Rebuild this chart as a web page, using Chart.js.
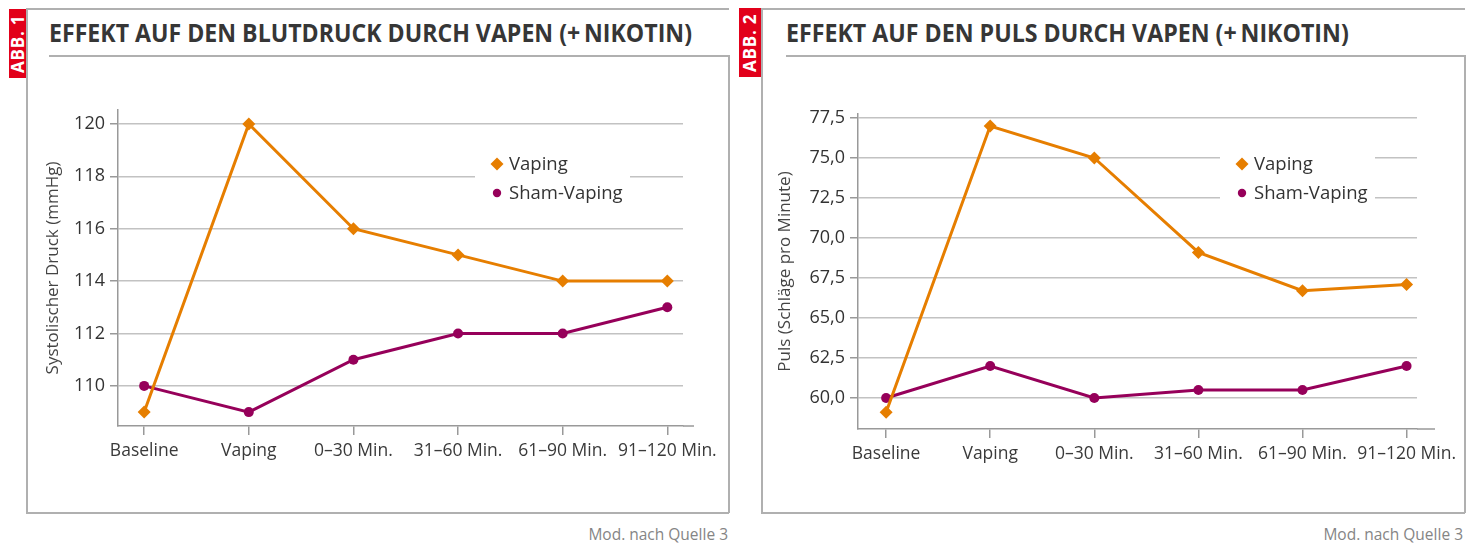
<!DOCTYPE html>
<html lang="de">
<head>
<meta charset="utf-8">
<title>Effekt auf Blutdruck und Puls durch Vapen</title>
<script src="https://cdn.jsdelivr.net/npm/chart.js@4.4.1/dist/chart.umd.min.js"></script>
<style>
  html, body { margin: 0; padding: 0; background: #fff; }
  body { width: 1471px; height: 549px; position: relative; overflow: hidden; font-family: 'Open Sans', sans-serif; }
  .linie { position: absolute; background: #b0b0b0; }
  .abb { position: absolute; background: #e2001a; color: #fff; font-weight: 700; font-size: 17px;
         writing-mode: vertical-rl; transform: rotate(180deg); text-align: center; line-height: 17px; letter-spacing: 0.8px; }
  .titel { position: absolute; top: 17px; font-weight: 700; font-size: 25px; line-height: 30px; color: #363636;
           white-space: nowrap; transform-origin: 0 0; }
  .quelle { position: absolute; top: 523px; font-size: 15.5px; color: #858585; white-space: nowrap; }
  canvas { position: absolute; top: 58px; }
</style>
</head>
<body>

<!-- Abb. 1 -->
<div class="linie" style="left:26px; top:8px; width:703px; height:1.5px"></div>
<div class="linie" style="left:26px; top:8px; width:1.5px; height:505px"></div>
<div class="linie" style="left:49px; top:55px; width:680px; height:1.5px"></div>
<div class="linie" style="left:728px; top:55px; width:1.5px; height:458px"></div>
<div class="linie" style="left:26px; top:512px; width:703px; height:1.5px"></div>
<div class="abb" style="left:9px; top:9px; width:17px; height:69px">ABB. 1</div>
<div class="titel" id="titel1" style="left:49px">EFFEKT AUF DEN BLUTDRUCK DURCH VAPEN (+&thinsp;NIKOTIN)</div>
<canvas id="chartBlutdruck" width="700" height="448" style="left:27px"></canvas>
<div class="quelle" style="right:743px">Mod. nach Quelle 3</div>

<!-- Abb. 2 -->
<div class="linie" style="left:761px; top:8px; width:704px; height:1.5px"></div>
<div class="linie" style="left:761px; top:8px; width:1.5px; height:505px"></div>
<div class="linie" style="left:786px; top:55px; width:679px; height:1.5px"></div>
<div class="linie" style="left:1464px; top:55px; width:1.5px; height:458px"></div>
<div class="linie" style="left:761px; top:512px; width:704px; height:1.5px"></div>
<div class="abb" style="left:739px; top:8px; width:22px; height:69px; line-height:22px">ABB. 2</div>
<div class="titel" id="titel2" style="left:786px">EFFEKT AUF DEN PULS DURCH VAPEN (+&thinsp;NIKOTIN)</div>
<canvas id="chartPuls" width="702" height="448" style="left:762px"></canvas>
<div class="quelle" style="right:8px">Mod. nach Quelle 3</div>

<script>
// Daten
var zeitpunkte = ['Baseline', 'Vaping', '0–30 Min.', '31–60 Min.', '61–90 Min.', '91–120 Min.'];

var blutdruckVaping = [109, 120, 116, 115, 114, 114];
var blutdruckSham = [110, 109, 111, 112, 112, 113];
var blutdruckTicks = [110, 112, 114, 116, 118, 120];

var pulsVaping = [59.1, 77.0, 75.0, 69.1, 66.7, 67.1];
var pulsSham = [60.0, 62.0, 60.0, 60.5, 60.5, 62.0];
var pulsTicks = [60, 62.5, 65, 67.5, 70, 72.5, 75, 77.5];

var orange = '#e67e00';
var lila = '#96005a';

// Titelbreite an Vorlage anpassen
function titelAnpassen(id, breite) {
  var el = document.getElementById(id);
  el.style.transform = 'scaleX(' + (breite / el.offsetWidth) + ')';
}
titelAnpassen('titel1', 643);
titelAnpassen('titel2', 563);

// Legende im Diagramm + verlaengerte x-Achse
var innenLegende = {
  id: 'innenLegende',
  beforeDatasetsDraw: function (chart, args, opts) {
    var ctx = chart.ctx;
    var a = chart.chartArea;
    var x = a.left + opts.x;
    var y = a.top + opts.y;
    ctx.save();
    ctx.fillStyle = '#fff';
    ctx.fillRect(x - 22, y - 26, 155, 80);
    chart.data.datasets.forEach(function (ds, i) {
      var yy = y + i * 29;
      ctx.fillStyle = ds.backgroundColor;
      ctx.beginPath();
      if (ds.pointStyle === 'rectRot') {
        ctx.moveTo(x, yy - 6.5);
        ctx.lineTo(x + 6.5, yy);
        ctx.lineTo(x, yy + 6.5);
        ctx.lineTo(x - 6.5, yy);
      } else {
        ctx.arc(x, yy, 4.2, 0, Math.PI * 2);
      }
      ctx.closePath();
      ctx.fill();
      ctx.fillStyle = '#333';
      ctx.font = '18.5px "Open Sans"';
      ctx.textBaseline = 'middle';
      ctx.fillText(ds.label, x + 12, yy + 1);
    });
    // x-Achse laeuft etwas ueber die Gitterlinien hinaus
    ctx.strokeStyle = '#999';
    ctx.lineWidth = 1.5;
    ctx.beginPath();
    ctx.moveTo(a.right, a.bottom);
    ctx.lineTo(a.right + opts.achse, a.bottom);
    ctx.stroke();
    ctx.restore();
  }
};

function diagramm(id, vaping, sham, ticks, e) {
  var ctx = document.getElementById(id).getContext('2d');
  return new Chart(ctx, {
    type: 'line',
    data: {
      datasets: [{
        label: 'Vaping',
        data: vaping.map(function (v, i) { return { x: i, y: v }; }),
        borderColor: orange,
        backgroundColor: orange,
        borderWidth: 3,
        pointStyle: 'rectRot',
        pointRadius: 6.5,
        pointBorderWidth: 0,
        tension: 0
      }, {
        label: 'Sham-Vaping',
        data: sham.map(function (v, i) { return { x: i, y: v }; }),
        borderColor: lila,
        backgroundColor: lila,
        borderWidth: 3,
        pointStyle: 'circle',
        pointRadius: 5,
        pointBorderWidth: 0,
        tension: 0
      }]
    },
    options: {
      responsive: false,
      animation: false,
      layout: { padding: { top: e.top, right: e.right, left: 0, bottom: 0 } },
      plugins: {
        legend: { display: false },
        tooltip: { enabled: false },
        innenLegende: { x: e.legX, y: e.legY, achse: e.achse }
      },
      scales: {
        x: {
          type: 'linear',
          min: e.xMin,
          max: e.xMax,
          afterBuildTicks: function (s) { s.ticks = zeitpunkte.map(function (z, i) { return { value: i }; }); },
          afterFit: function (s) { s.height = e.xHoehe; },
          grid: { drawOnChartArea: false, drawTicks: true, tickLength: 9, color: '#999', lineWidth: 1.5 },
          border: { color: '#999', width: 1.5 },
          ticks: {
            autoSkip: false,
            maxRotation: 0,
            padding: 6,
            color: '#3a3a3a',
            font: { family: 'Open Sans', size: 17.5 },
            callback: function (v) { return zeitpunkte[v]; }
          }
        },
        y: {
          min: e.yMin,
          max: e.yMax,
          afterBuildTicks: function (s) { s.ticks = ticks.map(function (v) { return { value: v }; }); },
          afterFit: function (s) { s.width = e.yBreite; },
          grid: { color: '#c2c2c2', lineWidth: 1.5, tickLength: 8, tickColor: '#999' },
          border: { color: '#999', width: 1.5 },
          ticks: {
            padding: 5,
            color: '#333',
            font: { family: 'Open Sans', size: 18 },
            callback: e.format
          },
          title: {
            display: true,
            text: e.titel,
            color: '#444',
            font: { family: 'Open Sans', size: 17 },
            padding: { top: e.titelAbstand, bottom: 0 }
          }
        }
      }
    },
    plugins: [innenLegende]
  });
}

diagramm('chartBlutdruck', blutdruckVaping, blutdruckSham, blutdruckTicks, {
  top: 52, right: 44, yBreite: 91, xHoehe: 80,
  xMin: -0.25, xMax: 5.15, yMin: 108.47, yMax: 120.53,
  legX: 379, legY: 54, achse: 11, titelAbstand: 16,
  titel: 'Systolischer Druck (mmHg)',
  format: function (v) { return String(v); }
});

diagramm('chartPuls', pulsVaping, pulsSham, pulsTicks, {
  top: 56, right: 47, yBreite: 96, xHoehe: 77,
  xMin: -0.27, xMax: 5.1, yMin: 58.06, yMax: 77.75,
  legX: 384, legY: 50, achse: 18, titelAbstand: 13,
  titel: 'Puls (Schläge pro Minute)',
  format: function (v) { return v.toFixed(1).replace('.', ','); }
});
</script>
</body>
</html>
